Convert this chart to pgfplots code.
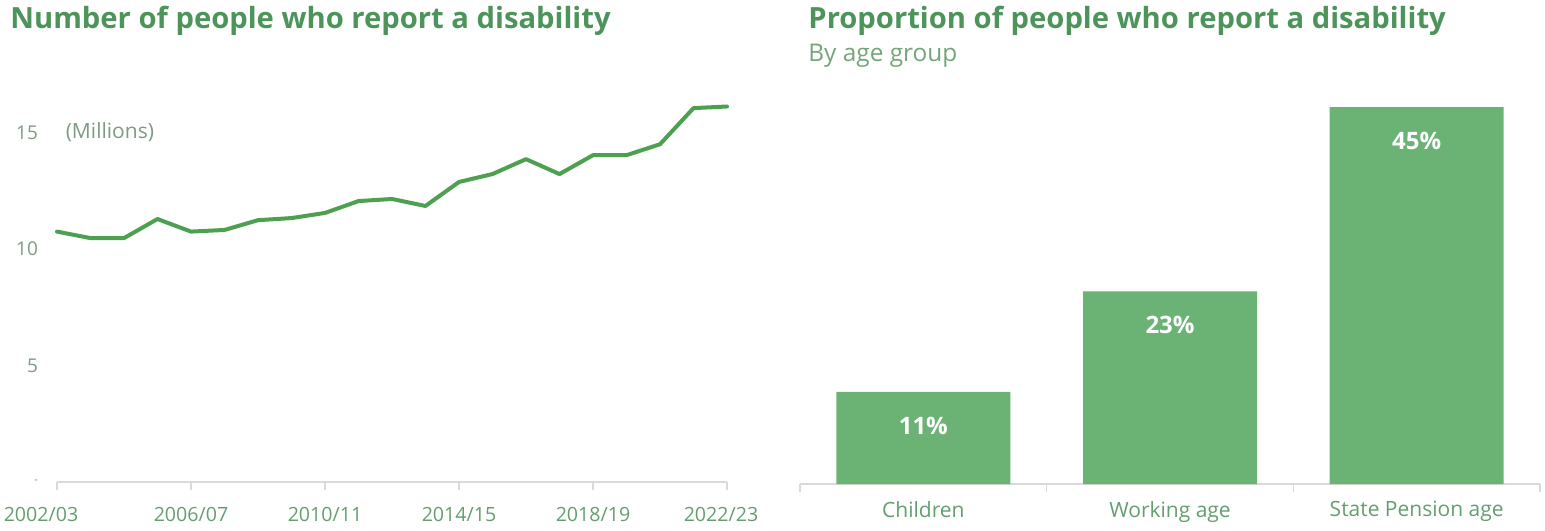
\documentclass[border=0pt]{standalone}
\usepackage{fontspec}
\setmainfont{Open Sans}
\usepackage{pgfplots}
\pgfplotsset{compat=1.18}
\definecolor{titlegreen}{RGB}{76,148,90}
\definecolor{subgreen}{RGB}{115,165,120}
\definecolor{linegreen}{RGB}{76,160,80}
\definecolor{bargreen}{RGB}{107,179,116}
\definecolor{ticklab}{RGB}{100,158,112}
\definecolor{ylab}{RGB}{125,155,130}
\definecolor{axgrey}{RGB}{215,218,215}
\begin{document}
\begin{tikzpicture}[x=1pt,y=1pt]
\useasboundingbox (0,0) rectangle (772.5,265);
\node[anchor=base west, font=\fontsize{14.6}{16}\selectfont\bfseries, text=titlegreen, inner sep=0] at (5,250.5) {Number of people who report a disability};
\node[anchor=base west, font=\fontsize{14.6}{16}\selectfont\bfseries, text=titlegreen, inner sep=0] at (404,250.5) {Proportion of people who report a disability};
\node[anchor=base west, font=\fontsize{12.2}{14}\selectfont, text=subgreen, inner sep=0] at (404,234) {By age group};

\begin{axis}[
  at={(28.5pt,24pt)}, anchor=south west, scale only axis,
  width=335pt, height=198pt,
  xmin=2002, xmax=2022, ymin=0, ymax=17,
  axis x line*=bottom, axis y line*=left,
  y axis line style={draw=none},
  x axis line style={draw=axgrey, line width=0.8pt},
  xtick={2002,2006,2010,2014,2018,2022},
  xticklabels={{\hspace*{-16pt}2002/03},2006/07,2010/11,2014/15,2018/19,{\hspace*{-6pt}2022/23}},
  ytick={0,5,10,15},
  yticklabels={{\scalebox{0.6}{-}},5,10,15},
  tick align=outside,
  major tick length=4pt,
  xtick style={draw=axgrey, line width=0.8pt},
  ytick style={draw=none},
  x tick label style={font=\fontsize{9.8}{11}\selectfont, text=ticklab, yshift=-5pt},
  y tick label style={font=\fontsize{9.5}{10}\selectfont, text=ylab, xshift=-2pt},
  /pgf/number format/assume math mode=true,
  clip=false,
]
\addplot[linegreen, line width=2pt, line join=round, line cap=round] coordinates {
(2002,10.75) (2003,10.47) (2004,10.47) (2005,11.29) (2006,10.75) (2007,10.82)
(2008,11.24) (2009,11.33) (2010,11.55) (2011,12.06) (2012,12.15) (2013,11.85)
(2014,12.88) (2015,13.22) (2016,13.86) (2017,13.22) (2018,14.03) (2019,14.03)
(2020,14.5) (2021,16.05) (2022,16.12)
};
\node[anchor=west, font=\fontsize{10.5}{12}\selectfont, text=ylab, inner sep=0] at (axis cs:2002.25,15) {(Millions)};
\end{axis}

\begin{axis}[
  at={(400pt,23pt)}, anchor=south west, scale only axis,
  width=370pt, height=201pt,
  xmin=-0.5, xmax=2.5, ymin=0, ymax=48,
  axis x line*=bottom, axis y line=none,
  x axis line style={draw=axgrey, line width=0.8pt},
  xtick={0,1,2},
  xticklabels={Children,Working age,State Pension age},
  major tick length=0pt,
  minor xtick={-0.5,0.5,1.5,2.5},
  minor tick length=4pt,
  tick align=outside,
  minor tick style={draw=axgrey, line width=0.8pt},
  x tick label style={font=\fontsize{10.5}{11}\selectfont, text=ticklab, yshift=-5pt},
  /pgf/number format/assume math mode=true,
  clip=false,
]
\addplot[ybar, bar width=87pt, fill=bargreen, draw=none,
  nodes near coords={\pgfmathprintnumber{\pgfplotspointmeta}\%},
  every node near coord/.append style={anchor=center, yshift=-17pt, text=white, font=\fontsize{12}{13}\selectfont\bfseries},
] coordinates {(0,11) (1,23) (2,45)};
\end{axis}
\end{tikzpicture}
\end{document}
